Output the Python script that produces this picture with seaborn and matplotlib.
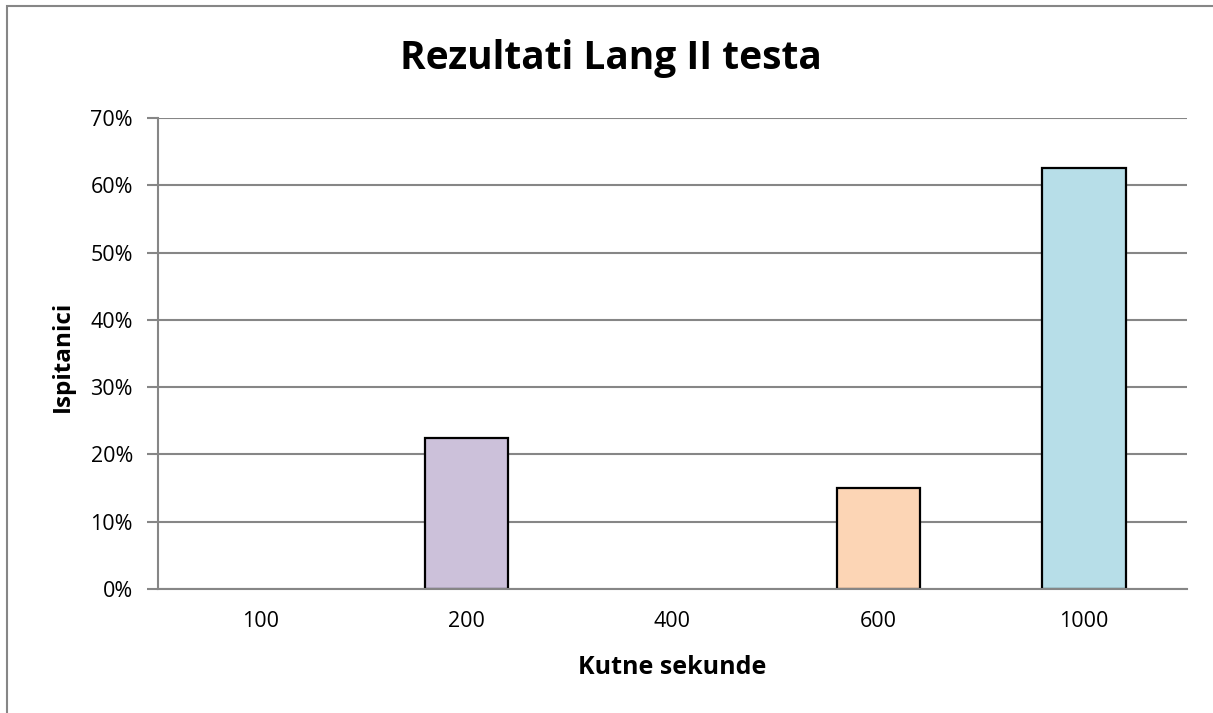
import matplotlib
matplotlib.use('Agg')
import matplotlib.pyplot as plt
import seaborn as sns
import pandas as pd
from matplotlib.patches import Rectangle
from matplotlib.ticker import FuncFormatter

# podaci
kategorije = ['100', '200', '400', '600', '1000']
postotci = [0.0, 22.5, 0.0, 15.0, 62.5]
boje = ['#B9CDE5', '#CCC1DA', '#D7E4BD', '#FCD5B5', '#B7DEE8']

df = pd.DataFrame({'kut': kategorije, 'udio': postotci})

sns.set_theme(style='white')
plt.rcParams['font.family'] = ['Open Sans', 'DejaVu Sans']
plt.rcParams['text.color'] = 'black'

fig = plt.figure(figsize=(12.13, 7.13), dpi=100)
ax = fig.add_axes([158 / 1213, 1 - 589 / 713, (1187 - 158) / 1213, (589 - 118) / 713])

sns.barplot(data=df, x='kut', y='udio', hue='kut', palette=boje, legend=False,
            width=0.405, edgecolor='black', linewidth=1.6, saturation=1, ax=ax)

# prazni stupci bez ruba
for p in ax.patches:
    if p.get_height() == 0:
        p.set_linewidth(0)

ax.set_ylim(0, 70)
ax.set_yticks(range(0, 71, 10))
ax.yaxis.set_major_formatter(FuncFormatter(lambda v, _: f'{int(v)}%'))
ax.yaxis.grid(True, color='#868686', linewidth=1.5)
ax.set_axisbelow(True)

for s in ['top', 'right']:
    ax.spines[s].set_visible(False)
for s in ['left', 'bottom']:
    ax.spines[s].set_color('#868686')
    ax.spines[s].set_linewidth(1.5)

ax.tick_params(axis='y', left=True, length=8, width=1.5, color='#868686',
               labelsize=15.5, pad=10, labelcolor='black')
ax.tick_params(axis='x', bottom=False, labelsize=15.5, pad=10, labelcolor='black')

ax.set_xlabel('')
ax.set_ylabel('')
fig.text(672 / 1213, 1 - 668 / 713, 'Kutne sekunde', ha='center', va='center',
         fontsize=18, fontweight='bold', color='black')
fig.text(63 / 1213, 1 - 356 / 713, 'Ispitanici', ha='center', va='center',
         rotation=90, fontsize=17.5, fontweight='bold', color='black')
fig.text(611 / 1213, 1 - 58 / 713, 'Rezultati Lang II testa', ha='center', va='center',
         fontsize=28, fontweight='bold', color='black')

# okvir grafikona
fig.patches.append(Rectangle((7 / 1213, -0.1), 1.2, 0.1 + (713 - 6) / 713,
                             transform=fig.transFigure, fill=False,
                             edgecolor='#868686', linewidth=1.5))

fig.savefig('out.png', dpi=100)
